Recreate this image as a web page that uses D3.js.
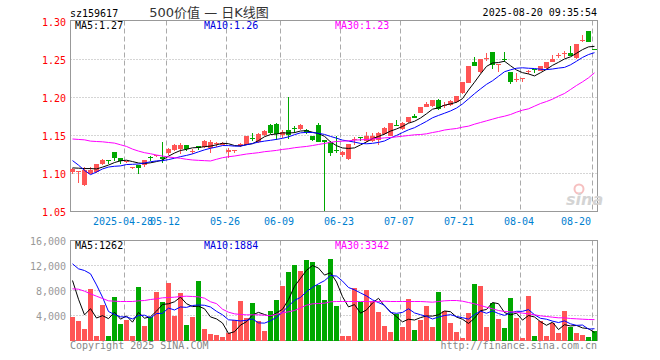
<!DOCTYPE html>
<html>
<head>
<meta charset="utf-8">
<script src="https://cdn.jsdelivr.net/npm/d3@7"></script>
<style>
body { margin: 0; background: #fff; }
svg text { font-family: "DejaVu Sans Mono", monospace; font-size: 10px; }
</style>
</head>
<body>
<svg id="chart" width="660" height="360"></svg>
<script>
// trading days shown on the chart (2025)
const dates = ["04-15","04-16","04-17","04-18","04-21","04-22","04-23","04-24","04-25","04-28",
  "04-29","04-30","05-06","05-07","05-08","05-09","05-12","05-13","05-14","05-15",
  "05-16","05-19","05-20","05-21","05-22","05-23","05-26","05-27","05-28","05-29",
  "05-30","06-03","06-04","06-05","06-06","06-09","06-10","06-11","06-12","06-13",
  "06-16","06-17","06-18","06-19","06-20","06-23","06-24","06-25","06-26","06-27",
  "06-30","07-01","07-02","07-03","07-04","07-07","07-08","07-09","07-10","07-11",
  "07-14","07-15","07-16","07-17","07-18","07-21","07-22","07-23","07-24","07-25",
  "07-28","07-29","07-30","07-31","08-01","08-04","08-05","08-06","08-07","08-08",
  "08-11","08-12","08-13","08-14","08-15","08-18","08-19","08-20"];

const open = [1.102,1.1025,1.085,1.100,1.102,1.112,1.1175,1.128,1.120,1.115,
  1.108,1.111,1.111,1.1222,1.123,1.122,1.127,1.131,1.1325,1.137,
  1.1285,1.1356,1.1348,1.134,1.1385,1.138,1.128,1.130,1.136,1.138,
  1.147,1.1408,1.1504,1.1643,1.1656,1.151,1.1576,1.1605,1.1582,1.1578,
  1.150,1.1635,1.1437,1.142,1.1305,1.124,1.119,1.144,1.1477,1.143,
  1.143,1.144,1.1515,1.150,1.1638,1.158,1.168,1.1756,1.1797,1.1877,
  1.1888,1.1965,1.1895,1.190,1.194,1.2055,1.2195,1.247,1.233,1.2508,
  1.2597,1.2435,1.2505,1.2337,1.2232,1.224,1.2345,1.2375,1.2351,1.2382,
  1.247,1.255,1.2585,1.259,1.2515,1.2752,1.2875,1.2632];
const high = [1.107,1.1035,1.108,1.108,1.113,1.119,1.118,1.128,1.1205,1.117,
  1.109,1.111,1.118,1.1225,1.125,1.141,1.134,1.139,1.140,1.137,
  1.132,1.136,1.1445,1.1445,1.142,1.142,1.133,1.131,1.140,1.149,
  1.153,1.153,1.157,1.165,1.166,1.157,1.201,1.163,1.1652,1.158,
  1.150,1.1664,1.1437,1.143,1.149,1.1295,1.139,1.148,1.148,1.154,
  1.153,1.154,1.161,1.167,1.171,1.168,1.175,1.1782,1.188,1.1945,
  1.197,1.1975,1.194,1.197,1.202,1.221,1.2415,1.253,1.251,1.258,
  1.260,1.2445,1.260,1.2337,1.2316,1.2257,1.2368,1.2375,1.2414,1.2467,
  1.2555,1.2588,1.2612,1.2675,1.2702,1.2825,1.2875,1.2635];
const low = [1.100,1.088,1.084,1.099,1.101,1.111,1.113,1.117,1.112,1.114,
  1.106,1.100,1.108,1.116,1.122,1.114,1.125,1.130,1.126,1.129,
  1.126,1.131,1.134,1.127,1.135,1.137,1.121,1.127,1.135,1.137,
  1.143,1.140,1.150,1.152,1.144,1.147,1.146,1.153,1.157,1.152,
  1.1424,1.141,1.051,1.123,1.127,1.1214,1.118,1.138,1.1433,1.142,
  1.141,1.138,1.151,1.149,1.162,1.157,1.167,1.1725,1.179,1.187,
  1.188,1.184,1.186,1.189,1.193,1.205,1.219,1.241,1.232,1.248,
  1.2377,1.2337,1.2465,1.2178,1.2203,1.2202,1.231,1.2325,1.2349,1.238,
  1.2468,1.2524,1.2524,1.2545,1.251,1.2735,1.2732,1.2625];
const close = [1.106,1.103,1.104,1.105,1.112,1.118,1.1165,1.1205,1.1165,1.116,
  1.109,1.107,1.1175,1.121,1.124,1.1195,1.132,1.138,1.138,1.1317,
  1.1295,1.134,1.1434,1.142,1.1395,1.140,1.1313,1.131,1.139,1.1487,
  1.1458,1.152,1.1565,1.153,1.152,1.154,1.1504,1.1595,1.1635,1.1546,
  1.1435,1.1415,1.1415,1.127,1.1295,1.1283,1.1385,1.145,1.1468,1.149,
  1.150,1.153,1.1605,1.1665,1.163,1.1667,1.1745,1.173,1.1876,1.191,
  1.1967,1.1843,1.190,1.1958,1.2018,1.2205,1.241,1.2412,1.2502,1.2515,
  1.2432,1.244,1.2497,1.2204,1.2237,1.2257,1.2355,1.2368,1.2412,1.2465,
  1.2513,1.2557,1.259,1.2548,1.270,1.2757,1.2735,1.2625];

const ma5 = [1.1074,1.107,1.1065,1.1065,1.106,1.1084,1.1111,1.1144,1.1167,1.1175,
  1.1157,1.1138,1.1132,1.1141,1.1157,1.1178,1.1228,1.1269,1.1303,1.1318,
  1.1338,1.1342,1.1353,1.1361,1.1377,1.1398,1.1392,1.1368,1.1362,1.138,
  1.1392,1.1433,1.1484,1.1512,1.1519,1.1535,1.1532,1.1538,1.1559,1.1564,
  1.1543,1.1525,1.1489,1.1416,1.1366,1.1336,1.133,1.1337,1.1376,1.1415,
  1.1459,1.1488,1.1519,1.1558,1.1586,1.1619,1.1662,1.1687,1.173,1.1786,
  1.1846,1.1865,1.1899,1.1916,1.1937,1.1985,1.2098,1.2201,1.2309,1.2409,
  1.2454,1.246,1.2477,1.2418,1.2362,1.2327,1.231,1.2284,1.2326,1.2371,
  1.2423,1.2463,1.2507,1.2535,1.2582,1.263,1.2666,1.2673];
const ma10 = [1.117,1.111,1.104,1.0985,1.102,1.106,1.1085,1.1095,1.110,1.1118,
  1.1121,1.1125,1.1138,1.1154,1.1166,1.1168,1.1183,1.1201,1.1222,1.1238,
  1.1258,1.1285,1.1311,1.1332,1.1348,1.1368,1.1367,1.136,1.1361,1.1378,
  1.1395,1.1413,1.1426,1.1437,1.1449,1.1463,1.1482,1.1511,1.1535,1.1541,
  1.1539,1.1529,1.1514,1.1488,1.1465,1.1439,1.1427,1.1413,1.1396,1.1391,
  1.1397,1.1409,1.1428,1.1467,1.1501,1.1539,1.1575,1.1603,1.1644,1.1686,
  1.1733,1.1764,1.1793,1.1823,1.1861,1.1915,1.1982,1.205,1.2113,1.2173,
  1.222,1.2279,1.2339,1.2364,1.2385,1.2391,1.2385,1.2381,1.2372,1.2367,
  1.2375,1.2387,1.2396,1.243,1.2477,1.2527,1.2565,1.259];
const ma30 = [1.1454,1.1448,1.1443,1.1426,1.1421,1.1417,1.1408,1.140,1.1378,1.1356,
  1.1321,1.1295,1.1274,1.126,1.1243,1.123,1.1217,1.1208,1.12,1.1187,
  1.1178,1.1173,1.1169,1.1165,1.1187,1.1208,1.1221,1.123,1.1243,1.1256,
  1.1265,1.1274,1.1287,1.1295,1.1304,1.1317,1.1326,1.1339,1.1348,1.1356,
  1.1368,1.1382,1.1395,1.141,1.1421,1.1425,1.143,1.1439,1.1443,1.1447,
  1.1456,1.146,1.1469,1.1474,1.1482,1.1491,1.15,1.1509,1.1513,1.1522,
  1.1539,1.1553,1.1572,1.1583,1.1592,1.161,1.1623,1.1649,1.1671,1.1693,
  1.1715,1.1737,1.1754,1.1776,1.1807,1.1833,1.1851,1.1886,1.1921,1.1947,
  1.1978,1.2018,1.2053,1.2105,1.2158,1.2206,1.2259,1.2325];

const volume = [3840,3200,1920,8270,750,5760,800,7040,2720,3300,
  800,8640,2400,3840,7840,6130,9170,4000,7570,2560,
  3840,9490,1920,1070,960,530,1170,3300,6400,3630,
  5970,3200,1600,4800,6560,8800,11040,12160,11200,12960,
  12640,8960,6560,13120,5600,800,800,8430,6240,8160,
  6400,4530,2400,1440,4270,2240,6670,1760,3360,5600,
  2130,7730,4800,2770,1330,370,4370,9010,8800,2240,
  5970,3410,1970,6880,3680,370,7090,800,3100,800,
  2880,1170,4700,2100,1200,900,600,1500];
const volMa5 = [9600,6600,4100,5100,3596,3980,3500,4524,3414,3924,
  2932,4500,3572,3796,4704,5770,5876,6196,6942,5886,
  5428,5492,5076,3776,3456,2794,1130,1406,2472,3006,
  4094,4500,4160,3840,4426,4992,6560,8672,9952,11232,
  12000,11584,10464,10848,9376,7008,5376,5750,4374,4886,
  6006,6752,5546,4586,3808,2976,3404,3276,3660,3926,
  3904,4116,4724,4606,3752,3400,2728,3570,4776,4958,
  6078,5886,4478,4094,4382,3262,3998,3764,3008,2432,
  2934,1750,2530,2330,2410,2014,1900,1262];
const volMa10 = [12270,11470,11200,10670,8900,6930,4640,4160,3790,3760,
  3456,4000,4048,3605,4314,4351,5188,4884,5369,5295,
  5599,5684,5636,5359,4671,4111,3311,3241,3124,3231,
  3444,2815,2783,3156,3716,4543,5530,6416,6896,7829,
  8496,9072,9568,10400,10304,9504,8480,8107,7611,7131,
  6507,6064,5648,4480,4347,4491,5078,4411,4123,3867,
  3440,3760,4000,4133,3839,3652,3422,4147,4691,4355,
  4739,4307,4024,4435,4670,4670,4942,4121,3551,3407,
  3098,2874,3147,2669,2421,2474,1825,1884];
const volMa30 = [8270,8210,7890,7470,7090,6720,6350,6290,6240,6240,
  6240,6350,6400,6560,6670,6830,6880,6930,7040,7090,
  7040,6990,6770,6200,5900,5010,4530,4270,4160,4110,
  4110,4110,4050,3950,4210,4430,4590,4800,5230,5650,
  5870,5920,5970,6190,6240,6240,6240,6240,6240,6240,
  6190,6240,6290,6240,6240,6240,6240,6240,6240,6190,
  6130,6240,6350,6400,6400,6290,6080,5870,5600,5330,
  5070,4800,4640,4590,4530,4380,4270,4110,3950,3840,
  3730,3630,3630,3520,3470,3410,3360,3342];

const priceTicks = [1.05, 1.10, 1.15, 1.20, 1.25, 1.30];
const volTicks = [4000, 8000, 12000, 16000];
const dateTicks = ["04-28","05-12","05-26","06-09","06-23","07-07","07-21","08-04","08-20"];
const dateTickLabels = ["2025-04-28","05-12","05-26","06-09","06-23","07-07","07-21","08-04","08-20"];
const priceLegend = ["MA5:1.27", "MA10:1.26", "MA30:1.23"];
const volLegend = ["MA5:1262", "MA10:1884", "MA30:3342"];

const UP = "#ff5555", DOWN = "#00a800";
const LINE_COLORS = ["#000000", "#0000ff", "#ff00ff"];
const LEFT = 70.5, RIGHT = 597.5;

const svg = d3.select("#chart");
const x = d3.scalePoint().domain(dates).range([72.5, 594.5]);
const y = d3.scaleLinear().domain([1.05, 1.30]).range([211.5, 21.5]);
const yv = d3.scaleLinear().domain([0, 16000]).range([340.5, 240.5]);

const rows = dates.map((d, i) => ({
	date: d, o: open[i], h: high[i], l: low[i], c: close[i], v: volume[i]
}));

/** draws the frame, dotted horizontals and dashed verticals of one panel */
function drawGrid(top, bottom, scale, ticks) {
	const g = svg.append("g");
	g.selectAll("line.h")
		.data(ticks.filter(t => scale(t) > top + 1 && scale(t) < bottom - 1))
		.enter().append("line")
		.attr("x1", LEFT).attr("x2", RIGHT)
		.attr("y1", d => Math.round(scale(d) - 0.5) + 0.5)
		.attr("y2", d => Math.round(scale(d) - 0.5) + 0.5)
		.style("stroke", "#aaa").style("stroke-dasharray", "1,2");
	g.selectAll("line.v")
		.data(dateTicks)
		.enter().append("line")
		.attr("x1", d => x(d) - 2).attr("x2", d => x(d) - 2)
		.attr("y1", top).attr("y2", bottom)
		.style("stroke", "#aaa").style("stroke-dasharray", "5,3");
	g.append("rect")
		.attr("x", LEFT).attr("y", top)
		.attr("width", RIGHT - LEFT).attr("height", bottom - top)
		.style("fill", "none").style("stroke", "#999");
}

function drawLines(series, scale) {
	const line = d3.line().x((d, i) => x(dates[i])).y(d => scale(d));
	series.forEach((s, k) => {
		svg.append("path")
			.datum(s)
			.attr("d", line)
			.style("fill", "none")
			.style("stroke", LINE_COLORS[k])
			.style("stroke-width", 1);
	});
}

function drawLegend(labels, baseline) {
	const xs = [75, 204, 335];
	labels.forEach((t, k) => {
		svg.append("text").attr("x", xs[k]).attr("y", baseline)
			.style("fill", k === 0 ? "#000" : (k === 1 ? "#0000e0" : "#ff00ff"))
			.text(t);
	});
}

// ---- price panel
drawGrid(20.5, 211.5, y, priceTicks);

const candles = svg.append("g").attr("shape-rendering", "crispEdges");
candles.selectAll("line")
	.data(rows)
	.enter().append("line")
	.attr("x1", d => x(d.date)).attr("x2", d => x(d.date))
	.attr("y1", d => y(d.h)).attr("y2", d => y(d.l))
	.style("stroke", d => d.c >= d.o ? UP : DOWN);
candles.selectAll("rect")
	.data(rows)
	.enter().append("rect")
	.attr("x", d => x(d.date) - 2.5)
	.attr("width", 5)
	.attr("y", d => y(Math.max(d.o, d.c)))
	.attr("height", d => Math.max(1, y(Math.min(d.o, d.c)) - y(Math.max(d.o, d.c))))
	.style("fill", d => d.c >= d.o ? UP : DOWN);

drawLines([ma5, ma10, ma30], y);

// sina watermark
svg.append("circle").attr("cx", 579).attr("cy", 189).attr("r", 4.5)
	.style("fill", "none").style("stroke", "#f6c0c0").style("stroke-width", 2);
svg.append("text").attr("x", 566).attr("y", 205)
	.style("font-family", "DejaVu Sans").style("font-size", "16px")
	.style("font-style", "italic").style("font-weight", "bold")
	.style("fill", "#d4d4d4").text("sina");

svg.append("g")
	.attr("transform", "translate(70,0)")
	.call(d3.axisLeft(y).tickValues(priceTicks).tickSize(0).tickPadding(4)
		.tickFormat(d3.format(".2f")))
	.call(g => g.select(".domain").remove())
	.call(g => g.selectAll("text").attr("dy", "0.38em")
		.style("fill", "#ff0000").style("font-family", "DejaVu Sans Mono").style("font-size", "10px"));

dateTicks.forEach((d, k) => {
	const last = k === dateTicks.length - 1;
	svg.append("text")
		.attr("x", x(d) - 3.5).attr("y", 225)
		.attr("text-anchor", last ? "end" : "middle")
		.style("fill", "#0080d0")
		.text(dateTickLabels[k]);
});

drawLegend(priceLegend, 29);

// ---- volume panel
drawGrid(240.5, 340.5, yv, volTicks);

svg.append("g").attr("shape-rendering", "crispEdges")
	.selectAll("rect")
	.data(rows)
	.enter().append("rect")
	.attr("x", d => x(d.date) - 2.5)
	.attr("width", 5)
	.attr("y", d => yv(d.v))
	.attr("height", d => yv(0) - yv(d.v))
	.style("fill", d => d.c >= d.o ? UP : DOWN);

drawLines([volMa5, volMa10, volMa30], yv);

svg.append("g")
	.attr("transform", "translate(70,0)")
	.call(d3.axisLeft(yv).tickValues(volTicks).tickSize(0).tickPadding(4))
	.call(g => g.select(".domain").remove())
	.call(g => g.selectAll("text").attr("dy", "0.35em")
		.style("fill", "#999").style("font-family", "DejaVu Sans Mono").style("font-size", "10px"));

drawLegend(volLegend, 249);

// ---- header and footer
svg.append("text").attr("x", 70).attr("y", 17).style("fill", "#000").text("sz159617");
svg.append("text").attr("x", 209).attr("y", 17).attr("text-anchor", "middle")
	.style("font-family", "'DejaVu Sans', 'Noto Sans CJK SC'").style("font-size", "13px")
	.style("fill", "#333").text("500价值 — 日K线图");
svg.append("text").attr("x", 597).attr("y", 16).attr("text-anchor", "end")
	.style("fill", "#000").text("2025-08-20 09:35:54");
svg.append("text").attr("x", 70).attr("y", 349).style("fill", "#888")
	.text("Copyright 2025 SINA.COM");
svg.append("text").attr("x", 597).attr("y", 349).attr("text-anchor", "end")
	.style("fill", "#888").text("http://finance.sina.com.cn");
</script>
</body>
</html>
